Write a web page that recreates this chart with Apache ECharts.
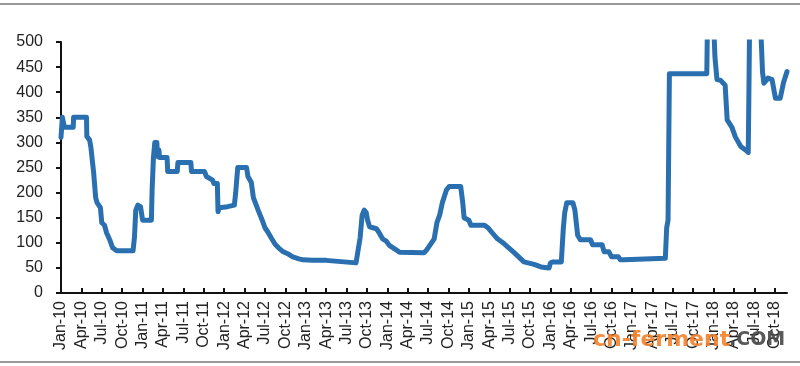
<!DOCTYPE html>
<html><head><meta charset="utf-8">
<script src="https://cdn.jsdelivr.net/npm/echarts@6/dist/echarts.min.js"></script>
<style>html,body{margin:0;padding:0;background:#fff}#c{width:800px;height:366px}</style>
</head><body><div id="c"></div>
<script>
// x position in months since Jan-2010
const monthIdx = [0,0.2,0.45,0.5,1.8,1.85,3.75,3.8,4.2,4.4,4.8,5.1,5.3,5.8,6.0,6.4,6.7,7.2,7.6,8.2,9.5,10.6,10.8,11.0,11.3,11.7,12.0,13.3,13.4,13.6,13.8,14.1,14.2,14.4,14.5,15.6,15.7,17.1,17.2,19.1,19.2,21.1,21.4,22.3,22.5,23.0,23.1,23.3,24.5,24.7,25.5,25.7,26.0,27.3,27.5,28.0,28.3,29.0,29.6,30.0,30.4,31.0,31.5,32.0,32.7,33.5,34.1,35.0,35.6,37,39.0,39.2,43.4,43.6,44.0,44.3,44.6,44.9,45.1,45.4,46.4,46.8,47.3,47.8,48.3,49.3,49.8,53.4,53.8,54.5,54.9,55.3,55.7,56.1,56.7,57.1,58.8,59.1,59.3,60.0,60.3,62.3,62.8,63.3,64.2,65.2,66.7,68.1,69.6,70.6,71.8,72.0,72.3,73.6,73.9,74.1,74.4,75.3,75.6,76.0,76.4,77.9,78.2,79.6,79.9,80.6,81.0,82.0,82.3,82.8,83.0,88.9,89.1,89.3,89.5,95.0,95.1,96.0,96.2,96.5,97.0,97.7,98.0,98.7,99.2,100.0,100.7,101.1,101.2,101.3,102.9,103.2,103.4,104.0,104.6,105.1,105.8,106.3,106.8];
const price = [310,350,350,330,330,350,350,312,305,290,240,190,180,170,140,135,120,105,90,84,84,84,110,165,175,172,145,145,205,270,300,300,272,285,270,270,242,242,260,260,242,242,232,225,218,218,162,170,172,175,175,200,250,250,232,220,190,165,145,130,122,108,97,90,82,77,72,68,66,65,65,62,60,62,110,155,165,160,145,132,128,120,108,104,95,86,81,80,86,100,108,140,155,180,205,212,212,180,150,145,135,135,130,122,108,98,80,62,57,52,50,60,62,62,130,160,180,180,165,115,106,106,96,96,82,82,72,72,66,66,69,69,130,145,437,437,540,540,470,425,424,414,345,330,311,292,285,280,404,540,540,440,418,428,425,388,388,420,441];
const tickLabels = ['Jan-10','Apr-10','Jul-10','Oct-10','Jan-11','Apr-11','Jul-11','Oct-11','Jan-12','Apr-12','Jul-12','Oct-12','Jan-13','Apr-13','Jul-13','Oct-13','Jan-14','Apr-14','Jul-14','Oct-14','Jan-15','Apr-15','Jul-15','Oct-15','Jan-16','Apr-16','Jul-16','Oct-16','Jan-17','Apr-17','Jul-17','Oct-17','Jan-18','Apr-18','Jul-18','Oct-18'];
const tickMonths = tickLabels.map((_, i) => i * 3);

const chart = echarts.init(document.getElementById('c'), null, {renderer: 'canvas'});
chart.setOption({
  animation: false,
  grid: {left: 61, right: 13, top: 42, bottom: 73, containLabel: false},
  xAxis: {
    type: 'value', min: 0, max: 106.8,
    axisLine: {show: true, lineStyle: {color: '#111', width: 2}},
    axisTick: {show: true, inside: true, length: 5, lineStyle: {color: '#111', width: 2}, customValues: tickMonths},
    axisLabel: {rotate: 90, margin: 8, fontSize: 16, fontFamily: 'Liberation Sans, Arial', color: '#222',
      customValues: tickMonths,
      formatter: v => tickLabels[Math.round(v / 3)] || ''},
    splitLine: {show: false}
  },
  yAxis: {
    type: 'value', min: 0, max: 500, interval: 50,
    axisLine: {show: true, lineStyle: {color: '#111', width: 2}},
    axisTick: {show: true, length: 5, lineStyle: {color: '#111', width: 2}},
    axisLabel: {margin: 18, fontSize: 16, fontFamily: 'Liberation Sans, Arial', color: '#222'},
    splitLine: {show: false}
  },
  series: [{
    type: 'line', showSymbol: false, clip: true,
    data: monthIdx.map((m, i) => [m, price[i]]),
    lineStyle: {color: '#2a70b0', width: 5, join: 'round', cap: 'round'}
  }],
  graphic: [
    {type: 'line', shape: {x1: 0, y1: 4, x2: 800, y2: 4}, style: {stroke: '#777', lineWidth: 1.5}},
    {type: 'line', shape: {x1: 0, y1: 362, x2: 800, y2: 362}, style: {stroke: '#777', lineWidth: 1.5}},
    {type: 'text', left: 593, top: 329, z: 100,
      style: {text: 'cn-ferment', font: 'bold 22px DejaVu Sans', fill: 'rgba(245,130,45,0.92)'}},
    {type: 'text', left: 729, top: 331, z: 100,
      style: {text: '.COM', font: 'bold 19px DejaVu Sans', fill: 'rgba(75,75,75,0.92)'}}
  ]
});
</script></body></html>
